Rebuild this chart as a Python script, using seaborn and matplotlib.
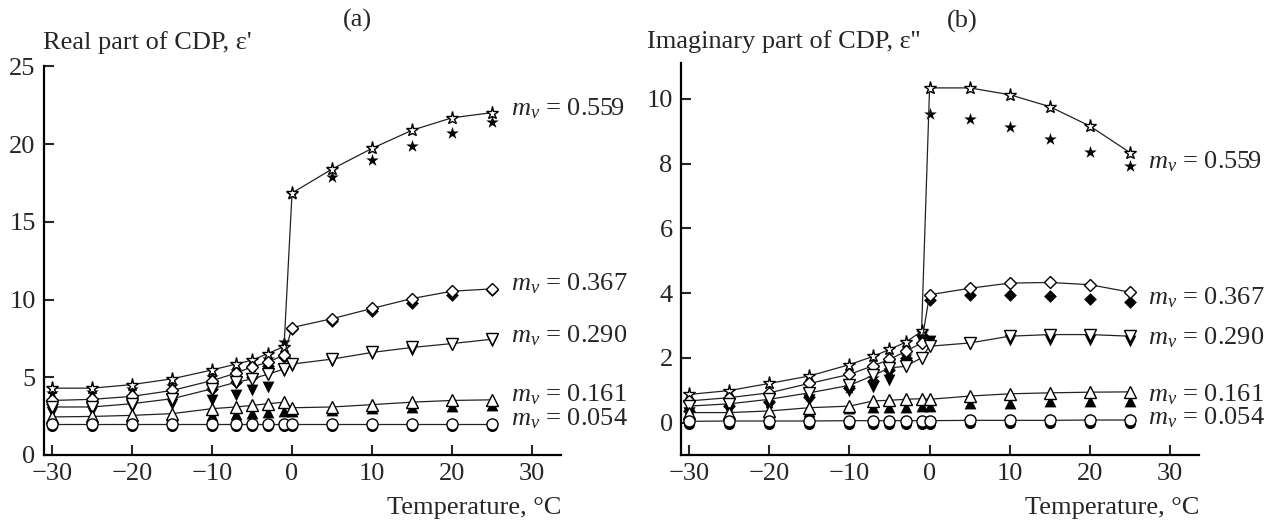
import numpy as np
import pandas as pd
import seaborn as sns
import matplotlib.pyplot as plt

# temperatures, deg C (same grid for both panels)
temps = [-30, -25, -20, -15, -10, -7, -5, -3, -1, 0, 5, 10, 15, 20, 25]
labels = ["0.559", "0.367", "0.290", "0.161", "0.054"]

# (a) real part, open markers (connected)
re_star_o = [4.30, 4.30, 4.53, 4.90, 5.47, 5.85, 6.10, 6.53, 6.98, 16.86, 18.40, 19.73, 20.90, 21.70, 22.03]
re_diam_o = [3.51, 3.58, 3.77, 4.15, 4.79, 5.26, 5.68, 5.96, 6.45, 8.20, 8.77, 9.43, 10.07, 10.54, 10.69]
re_down_o = [3.09, 3.09, 3.30, 3.62, 4.26, 4.68, 4.90, 5.20, 5.53, 5.85, 6.17, 6.60, 6.92, 7.17, 7.45]
re_up_o = [2.45, 2.48, 2.55, 2.66, 2.98, 3.09, 3.19, 3.30, 3.40, 3.04, 3.09, 3.24, 3.40, 3.51, 3.55]
re_circ_o = [2.02, 2.02, 2.02, 2.02, 2.02, 2.02, 2.02, 2.02, 2.02, 2.02, 2.02, 2.02, 2.02, 2.02, 2.02]
# (a) real part, filled markers
re_star_f = [3.98, 4.04, 4.26, 4.47, 5.00, 5.43, 5.64, 6.17, 7.28, 16.80, 17.88, 18.99, 19.90, 20.75, 21.40]
re_diam_f = [3.30, 3.35, 3.55, 3.90, 4.26, 4.68, 5.00, 5.75, 6.30, 8.10, 8.62, 9.26, 9.79, 10.30, 10.60]
re_down_f = [2.77, 2.80, 3.09, 3.30, 3.55, 3.83, 4.15, 4.36, 5.40, 5.75, 6.05, 6.50, 6.75, 7.05, 7.35]
re_up_f = [2.30, 2.32, 2.38, 2.45, 2.55, 2.66, 2.70, 2.77, 2.80, 2.82, 2.88, 3.02, 3.10, 3.18, 3.22]
re_circ_f = [1.84, 1.84, 1.84, 1.84, 1.84, 1.84, 1.84, 1.84, 1.84, 1.84, 1.84, 1.84, 1.84, 1.84, 1.84]
re_label_y = [22.3, 11.0, 7.65, 3.85, 2.35]

# (b) imaginary part, open markers (connected)
im_star_o = [0.87, 0.99, 1.21, 1.44, 1.79, 2.05, 2.26, 2.48, 2.82, 10.34, 10.34, 10.13, 9.76, 9.16, 8.34]
im_diam_o = [0.67, 0.77, 0.92, 1.21, 1.49, 1.76, 1.95, 2.20, 2.46, 3.95, 4.15, 4.31, 4.33, 4.26, 4.03]
im_down_o = [0.51, 0.58, 0.72, 0.92, 1.15, 1.46, 1.69, 1.74, 2.00, 2.36, 2.46, 2.67, 2.72, 2.72, 2.67]
im_up_o = [0.31, 0.31, 0.36, 0.46, 0.51, 0.67, 0.69, 0.72, 0.74, 0.72, 0.82, 0.89, 0.92, 0.94, 0.95]
im_circ_o = [0.04, 0.05, 0.05, 0.05, 0.06, 0.06, 0.06, 0.06, 0.06, 0.06, 0.07, 0.07, 0.07, 0.08, 0.08]
# (b) imaginary part, filled markers
im_star_f = [0.41, 0.45, 0.62, 0.82, 1.08, 1.38, 1.64, 2.05, 2.77, 9.52, 9.38, 9.13, 8.75, 8.36, 7.92]
im_diam_f = [0.36, 0.51, 0.64, 0.80, 1.08, 1.30, 1.64, 2.00, 2.70, 3.80, 3.95, 3.95, 3.90, 3.82, 3.74]
im_down_f = [0.30, 0.40, 0.50, 0.70, 0.97, 1.10, 1.33, 1.85, 2.51, 2.51, 2.42, 2.56, 2.56, 2.56, 2.51]
im_up_f = [0.20, 0.22, 0.25, 0.35, 0.45, 0.48, 0.48, 0.48, 0.50, 0.51, 0.62, 0.62, 0.67, 0.67, 0.67]
im_circ_f = [-0.05, -0.04, -0.04, -0.04, -0.03, -0.03, -0.03, -0.03, -0.03, -0.03, -0.02, -0.02, -0.02, -0.01, -0.01]
im_label_y = [8.05, 3.85, 2.62, 0.87, 0.15]

sns.set_theme(style="ticks")
plt.rcParams["font.family"] = ["Liberation Serif", "DejaVu Serif"]
plt.rcParams["mathtext.fontset"] = "custom"
plt.rcParams["mathtext.it"] = "Liberation Serif:italic"
plt.rcParams["mathtext.rm"] = "Liberation Serif"
plt.rcParams["axes.unicode_minus"] = True

FS = 19
markers = ["*", "D", "v", "^", "o"]
msizes = [9.5, 6.5, 8.5, 8.5, 8]


def draw_panel(ax, opens, filled, label_y, ylim, yticks):
    for vals, m, ms in zip(filled, markers, msizes):
        sns.scatterplot(x=temps, y=vals, ax=ax, marker=m, color="black",
                        s=ms ** 2, linewidth=0, zorder=2)
    for vals, m, ms in zip(opens, markers, msizes):
        sns.lineplot(x=temps, y=vals, ax=ax, color="#222222", linewidth=0.9,
                     marker=m, markersize=ms, markerfacecolor="white",
                     markeredgecolor="black", markeredgewidth=1.0, zorder=3)
    for lab, y in zip(labels, label_y):
        ax.text(27.3, y, r"$m_v$ = " + lab, fontsize=FS, va="center", ha="left",
                clip_on=False)
    ax.set_xlim(-31, 33.6)
    ax.set_ylim(*ylim)
    ax.set_xticks([-30, -20, -10, 0, 10, 20, 30])
    ax.set_yticks(yticks)
    ax.tick_params(direction="in", length=7, width=1.5, labelsize=FS, pad=6)
    ax.set_xlabel("")
    ax.set_ylabel("")
    for s in ["top", "right"]:
        ax.spines[s].set_visible(False)
    for s in ["left", "bottom"]:
        ax.spines[s].set_linewidth(1.6)
        ax.spines[s].set_color("black")


fig = plt.figure(figsize=(12.81, 5.24), dpi=100)
ax1 = fig.add_axes([0.0343, 0.1317, 0.4036, 0.7414])
ax2 = fig.add_axes([0.5316, 0.1317, 0.4044, 0.7475])

draw_panel(ax1, [re_star_o, re_diam_o, re_down_o, re_up_o, re_circ_o],
           [re_star_f, re_diam_f, re_down_f, re_up_f, re_circ_f],
           re_label_y, (0, 25), [0, 5, 10, 15, 20, 25])
draw_panel(ax2, [im_star_o, im_diam_o, im_down_o, im_up_o, im_circ_o],
           [im_star_f, im_diam_f, im_down_f, im_up_f, im_circ_f],
           im_label_y, (-1, 11.1), [0, 2, 4, 6, 8, 10])

fig.text(43 / 1281, 1 - 43 / 524, "Real part of CDP, ε'", fontsize=FS, va="center", ha="left")
fig.text(357 / 1281, 1 - 20 / 524, "(a)", fontsize=FS, va="center", ha="center")
fig.text(647 / 1281, 1 - 42 / 524, "Imaginary part of CDP, ε''", fontsize=FS, va="center", ha="left")
fig.text(962 / 1281, 1 - 21 / 524, "(b)", fontsize=FS, va="center", ha="center")
fig.text(561 / 1281, 1 - 508 / 524, "Temperature, °C", fontsize=FS, va="center", ha="right")
fig.text(1199 / 1281, 1 - 508 / 524, "Temperature, °C", fontsize=FS, va="center", ha="right")

fig.savefig("out.png", dpi=100)
